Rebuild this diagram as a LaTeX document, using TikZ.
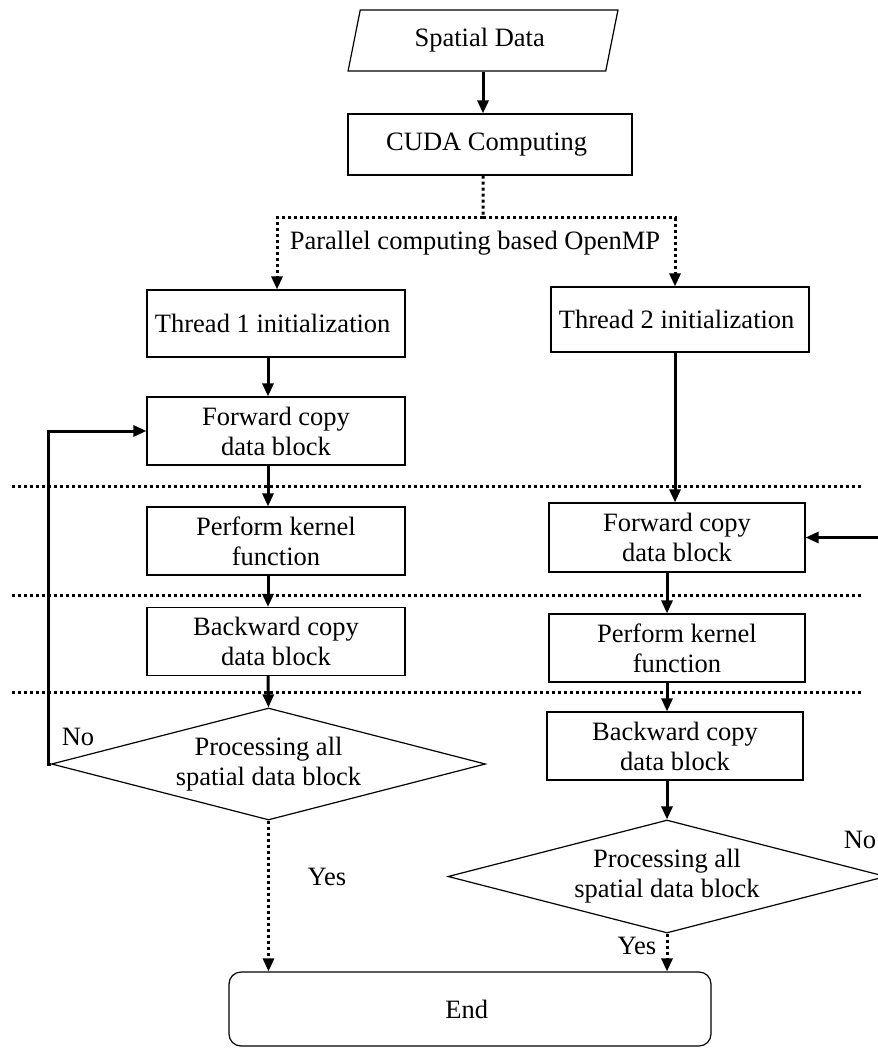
\documentclass[tikz,border=0pt]{standalone}
\usepackage{fontspec}
\setmainfont{Liberation Serif}
\usetikzlibrary{shapes.geometric,arrows.meta}
\begin{document}
\begin{tikzpicture}[x=1pt,y=-1pt]
% size of each box
\def\bw{258}
\def\bh{68}
% node style definition
\tikzstyle{stepbox} = [
	draw, rectangle, line width=1.2pt, align=center,
	font=\fontsize{26.5}{30}\selectfont, inner sep=2pt,
	minimum width=\bw, minimum height=\bh ];
\tikzstyle{iobox} = [stepbox, trapezium, trapezium left angle=76,
	trapezium right angle=104, trapezium stretches=true,
	minimum width=270, minimum height=61];
\tikzstyle{decision} = [stepbox, diamond, aspect=3.9, inner sep=0pt,
	minimum width=434, minimum height=112];
\tikzstyle{term} = [stepbox, rounded corners=12pt, minimum width=482, minimum height=74];
\tikzstyle{plain} = [draw=none, fill=none, font=\fontsize{26.5}{30}\selectfont];
\tikzstyle{arr} = [line width=3pt, -{Triangle[length=13pt,width=11pt]}];
\tikzstyle{dots} = [line width=3pt, dash pattern=on 3pt off 3pt];
\useasboundingbox (0,0) rectangle (877,1048);
% columns of the connectors
\coordinate (c1) at (268,0);
\coordinate (c2) at (675,0);
\coordinate (c3) at (667,0);
\coordinate (split) at (483,218);
\coordinate (rin) at (880,537.5);
% top
\node[iobox] (data) at (483,40.5) { Spatial Data };
\node[stepbox, minimum width=284, minimum height=61] (cuda) at (490,144.5) { CUDA Computing };
\node[plain] (omp) at (475,243) { Parallel computing based OpenMP };
% thread 1
\node[stepbox, minimum height=67] (thr1) at (276,323.5) { Thread 1 initialization };
\node[stepbox] (fwd1) at (276,431) { Forward copy\\data block };
\node[stepbox] (ker1) at (276,541) { Perform kernel\\function };
\node[stepbox] (bwd1) at (276,641.5) { Backward copy\\data block };
\node[decision] (dec1) at (268.5,764) { Processing all\\spatial data block };
% thread 2
\node[stepbox, minimum height=65] (thr2) at (680,319.5) { Thread 2 initialization };
\node[stepbox, minimum width=256, minimum height=69] (fwd2) at (677,537.5) { Forward copy\\data block };
\node[stepbox, minimum width=256] (ker2) at (677,648) { Perform kernel\\function };
\node[stepbox, minimum width=256] (bwd2) at (675,746) { Backward copy\\data block };
\node[decision, minimum width=438, minimum height=113] (dec2) at (667,876.5) { Processing all\\spatial data block };
\node[term] (end) at (470,1009) { End };
% labels
\node[plain] (no1) at (78,737) { No };
\node[plain] (yes1) at (327,877) { Yes };
\node[plain] (no2) at (860,840) { No };
\node[plain] (yes2) at (637,946) { Yes };
% stage separators
\foreach \sy in {486, 595, 692}
	\draw[dots] (12,\sy) -- (862,\sy);
% connectors
\draw[arr] (data.south) -- (data.south |- cuda.north);
\draw[dots] (data.south |- cuda.south) -- (split);
\draw[dots,arr] (split) -| ([xshift=1pt]thr1.north);
\draw[dots,arr] (split) -| ([xshift=-5pt]thr2.north);
\draw[arr] (thr1.south -| c1) -- (fwd1.north -| c1);
\draw[arr] (fwd1.south -| c1) -- (ker1.north -| c1);
\draw[arr] (ker1.south -| c1) -- (bwd1.north -| c1);
\draw[arr] (bwd1.south -| c1) -- (dec1.north);
\draw[arr] (dec1.west) -- ++(-2,0) |- (fwd1.west);
\draw[dots,arr] (dec1.south) -- (dec1.south |- end.north);
\draw[arr] (thr2.south -| c2) -- (fwd2.north -| c2);
\draw[arr] (rin) -- (fwd2.east);
\draw[arr] (fwd2.south -| c3) -- (ker2.north -| c3);
\draw[arr] (ker2.south -| c3) -- (bwd2.north -| c3);
\draw[arr] (bwd2.south -| c3) -- (dec2.north);
\draw[dots,arr] (dec2.south) -- (dec2.south |- end.north);
\end{tikzpicture}
\end{document}
